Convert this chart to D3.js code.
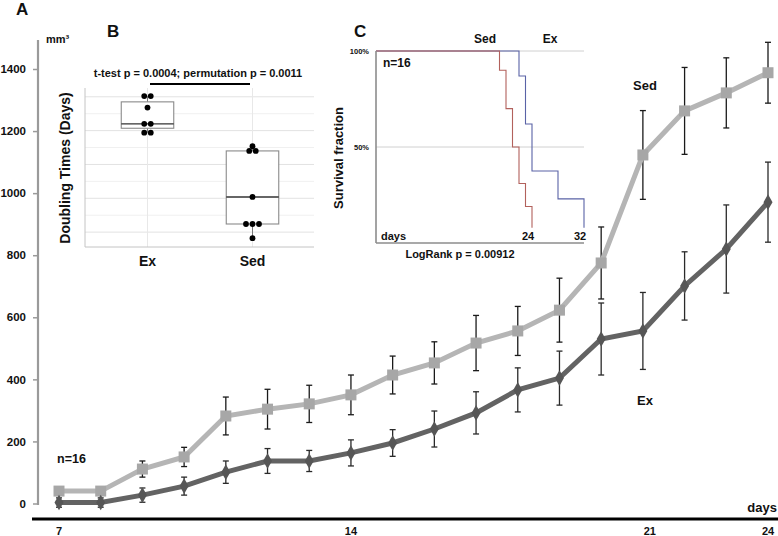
<!DOCTYPE html>
<html>
<head>
<meta charset="utf-8">
<script src="https://cdn.jsdelivr.net/npm/d3@7"></script>
<style>
  html, body { margin: 0; padding: 0; background: #fff; }
  svg { display: block; font-family: "Liberation Sans", Arial, Helvetica, sans-serif; }
  text { font-weight: bold; fill: #111; }
</style>
</head>
<body>
<svg id="chart" width="778" height="536"></svg>
<script>
// ---------------- DATA ----------------
// Panel A: tumour volume (mm3) by day
const days = [7, 8, 9, 10, 11, 12, 13, 14, 15, 16, 17, 18, 19, 20, 21, 22, 23, 24];
const sedMean = [40, 40, 111, 150, 282, 304, 321, 350, 414, 453, 517, 556, 623, 775, 1123, 1265, 1323, 1388];
const sedErr  = [5, 5, 26, 31, 61, 64, 60, 64, 61, 68, 89, 79, 103, 116, 143, 140, 113, 98];
const exMean  = [3, 3, 27, 56, 101, 137, 137, 163, 195, 240, 292, 366, 404, 530, 556, 701, 820, 971];
const exErr   = [15, 15, 23, 29, 36, 40, 34, 42, 43, 58, 68, 71, 87, 116, 124, 110, 142, 129];
const yTicks = [0, 200, 400, 600, 800, 1000, 1200, 1400];
const xTickLabels = [7, 14, 21, 24];

// Panel B: doubling times (box plot)
const groupsB = ["Ex", "Sed"];
const exDots  = [4.01, 4.01, 3.84, 3.60, 3.60, 3.47, 3.47];
const sedDots = [3.27, 3.20, 3.20, 2.52, 2.12, 2.12, 2.12, 1.91];
const exBox   = [3.47, 3.535, 3.60, 3.925, 4.01];   // min, q1, median, q3, max
const sedBox  = [1.91, 2.12, 2.52, 3.20, 3.27];
const gridMajorB = [2.0, 2.5, 3.0, 3.5, 4.0];
const gridMinorB = [2.25, 2.75, 3.25, 3.75];

// Panel C: survival (Kaplan-Meier)
const sedSurvDays = [0, 19, 20, 21, 22, 23, 24];
const sedSurv     = [100, 90, 70, 50, 31, 19, 8];
const exSurvDays  = [0, 22, 23, 24, 28, 32];
const exSurv      = [100, 87, 62, 37.5, 23, 8];
const survTicks = [100, 50];
const survDayLabels = [24, 32];

// ---------------- DRAW ----------------
const svg = d3.select("#chart");

// ===== Panel A =====
const x = d3.scaleLinear().domain([7, 24]).range([59, 768]);
const y = d3.scaleLinear().domain([0, 1400]).range([503.5, 69]);

// y axis (gray line + ticks)
svg.append("line").attr("x1", 38).attr("x2", 38).attr("y1", 40).attr("y2", 505)
  .attr("stroke", "#9a9a9a").attr("stroke-width", 2.2);
const yAxis = svg.append("g").attr("transform", "translate(38,0)")
  .call(d3.axisLeft(y).tickValues(yTicks).tickSize(5).tickPadding(7).tickFormat(d3.format("d")));
yAxis.select(".domain").remove();
yAxis.selectAll(".tick line").attr("stroke", "#9a9a9a").attr("stroke-width", 1.5);
yAxis.selectAll(".tick text").attr("font-size", 11.5).attr("font-weight", "bold")
  .attr("font-family", "Liberation Sans, Arial, sans-serif").attr("fill", "#111");

// x axis: thick black line and labels
svg.append("line").attr("x1", 32).attr("x2", 778).attr("y1", 519).attr("y2", 519)
  .attr("stroke", "#000").attr("stroke-width", 3);
svg.append("g").selectAll("text").data(xTickLabels).join("text")
  .attr("x", d => x(d) + (d === 21 ? 7 : 0)).attr("y", 535)
  .attr("text-anchor", "middle").attr("font-size", 11).text(d => d);

svg.append("text").attr("x", 777).attr("y", 512).attr("text-anchor", "end")
  .attr("font-size", 13).text("days");
svg.append("text").attr("x", 46).attr("y", 43).attr("font-size", 11).text("mm³");
svg.append("text").attr("x", 16).attr("y", 15).attr("font-size", 17).text("A");
svg.append("text").attr("x", 57).attr("y", 463).attr("font-size", 12.5).text("n=16");
svg.append("text").attr("x", 645).attr("y", 90).attr("text-anchor", "middle").attr("font-size", 13).text("Sed");
svg.append("text").attr("x", 645).attr("y", 405).attr("text-anchor", "middle").attr("font-size", 13).text("Ex");

const blur = svg.append("defs").append("filter").attr("id", "soft")
  .attr("x", "-20%").attr("y", "-20%").attr("width", "140%").attr("height", "140%");
blur.append("feGaussianBlur").attr("stdDeviation", 0.7);

function errorBars(mean, err, color) {
  const g = svg.append("g").attr("stroke", color).attr("stroke-width", 1.3).attr("fill", "none");
  days.forEach((d, i) => {
    const cx = x(d), top = y(mean[i] + err[i]), bot = y(mean[i] - err[i]);
    g.append("line").attr("x1", cx).attr("x2", cx).attr("y1", top).attr("y2", bot);
    g.append("line").attr("x1", cx - 3).attr("x2", cx + 3).attr("y1", top).attr("y2", top);
    g.append("line").attr("x1", cx - 3).attr("x2", cx + 3).attr("y1", bot).attr("y2", bot);
  });
}
errorBars(sedMean, sedErr, "#1a1a1a");
errorBars(exMean, exErr, "#2a2a2a");

const line = d3.line().x((d, i) => x(days[i])).y(d => y(d));
svg.append("path").datum(sedMean).attr("d", line).attr("fill", "none")
  .attr("stroke", "#b5b5b5").attr("stroke-width", 5).attr("filter", "url(#soft)");
svg.append("path").datum(exMean).attr("d", line).attr("fill", "none")
  .attr("stroke", "#636363").attr("stroke-width", 5).attr("filter", "url(#soft)");

svg.append("g").selectAll("rect").data(sedMean).join("rect")
  .attr("x", (d, i) => x(days[i]) - 5.5).attr("y", d => y(d) - 5.5)
  .attr("width", 11).attr("height", 11).attr("fill", "#a7a7a7").attr("filter", "url(#soft)");
svg.append("g").selectAll("path").data(exMean).join("path")
  .attr("d", d3.symbol().type(d3.symbolDiamond).size(70))
  .attr("transform", (d, i) => `translate(${x(days[i])},${y(d)})`)
  .attr("fill", "#565656").attr("filter", "url(#soft)");

// ===== Panel B =====
const xb = d3.scaleBand().domain(groupsB).range([95, 305]);
const yb = d3.scaleLinear().domain([1.78, 4.13]).range([247, 88]);
const bL = 85, bR = 314;

svg.append("g").selectAll("line").data(gridMinorB).join("line")
  .attr("x1", bL).attr("x2", bR).attr("y1", d => yb(d)).attr("y2", d => yb(d))
  .attr("stroke", "#f0f0f0").attr("stroke-width", 1);
svg.append("g").selectAll("line").data(gridMajorB).join("line")
  .attr("x1", bL).attr("x2", bR).attr("y1", d => yb(d)).attr("y2", d => yb(d))
  .attr("stroke", "#e2e2e2").attr("stroke-width", 1);
svg.append("g").selectAll("line").data(groupsB).join("line")
  .attr("x1", d => xb(d) + xb.bandwidth() / 2).attr("x2", d => xb(d) + xb.bandwidth() / 2)
  .attr("y1", 88).attr("y2", 247).attr("stroke", "#e8e8e8").attr("stroke-width", 1);
svg.append("line").attr("x1", bL).attr("x2", bL).attr("y1", 88).attr("y2", 247)
  .attr("stroke", "#c4c4c4").attr("stroke-width", 1);
svg.append("line").attr("x1", bL).attr("x2", bR).attr("y1", 247).attr("y2", 247)
  .attr("stroke", "#c4c4c4").attr("stroke-width", 1);

[[ "Ex", exBox, exDots ], [ "Sed", sedBox, sedDots ]].forEach(([g, bx, dots]) => {
  const cx = xb(g) + xb.bandwidth() / 2;
  const w = xb.bandwidth() * 0.5;
  const gg = svg.append("g");
  gg.append("line").attr("x1", cx).attr("x2", cx).attr("y1", yb(bx[0])).attr("y2", yb(bx[1]))
    .attr("stroke", "#777").attr("stroke-width", 1);
  gg.append("line").attr("x1", cx).attr("x2", cx).attr("y1", yb(bx[3])).attr("y2", yb(bx[4]))
    .attr("stroke", "#777").attr("stroke-width", 1);
  gg.append("rect").attr("x", cx - w / 2).attr("y", yb(bx[3])).attr("width", w)
    .attr("height", yb(bx[1]) - yb(bx[3])).attr("fill", "#fff")
    .attr("stroke", "#8a8a8a").attr("stroke-width", 1.1);
  gg.append("line").attr("x1", cx - w / 2).attr("x2", cx + w / 2)
    .attr("y1", yb(bx[2])).attr("y2", yb(bx[2])).attr("stroke", "#333").attr("stroke-width", 1.4);
  // dots: identical values spread side by side
  const groups = d3.group(dots, d => d);
  groups.forEach((vals, v) => {
    vals.forEach((_, k) => {
      gg.append("circle").attr("cx", cx + (k - (vals.length - 1) / 2) * 6.5).attr("cy", yb(v))
        .attr("r", 2.9).attr("fill", "#000");
    });
  });
  svg.append("text").attr("x", cx).attr("y", 266).attr("text-anchor", "middle")
    .attr("font-size", 14).text(g);
});

svg.append("text").attr("x", 198).attr("y", 77).attr("text-anchor", "middle")
  .attr("font-size", 11).text("t-test p = 0.0004; permutation p = 0.0011");
svg.append("line").attr("x1", 150).attr("x2", 250).attr("y1", 84).attr("y2", 84)
  .attr("stroke", "#000").attr("stroke-width", 2);
svg.append("text").attr("transform", "translate(70,168) rotate(-90)")
  .attr("text-anchor", "middle").attr("font-size", 14).text("Doubling Times (Days)");
svg.append("text").attr("x", 107).attr("y", 37).attr("font-size", 17).text("B");

// ===== Panel C =====
const xc = d3.scaleLinear().domain([0, 32]).range([376, 584]);
const yc = d3.scaleLinear().domain([0, 100]).range([243, 51]);

svg.append("g").selectAll("line").data(survTicks).join("line")
  .attr("x1", xc(0)).attr("x2", xc(32)).attr("y1", d => yc(d)).attr("y2", d => yc(d))
  .attr("stroke", "#d0d0d0").attr("stroke-width", 1);
svg.append("g").selectAll("text").data(survTicks).join("text")
  .attr("x", 369).attr("y", d => yc(d) + 2.5).attr("text-anchor", "end")
  .attr("font-size", 7.5).attr("font-weight", "normal").attr("fill", "#555")
  .text(d => d + "%");

const stepLine = (ds) => d3.line().curve(d3.curveStepAfter)
  .x((d, i) => xc(ds[i])).y(d => yc(d));
svg.append("path").datum(exSurv).attr("d", stepLine(exSurvDays)).attr("fill", "none")
  .attr("stroke", "#5a63a6").attr("stroke-width", 1.1);
svg.append("path").datum(sedSurv).attr("d", stepLine(sedSurvDays)).attr("fill", "none")
  .attr("stroke", "#b2615c").attr("stroke-width", 1.1);

svg.append("line").attr("x1", xc(0)).attr("x2", xc(0)).attr("y1", yc(100)).attr("y2", yc(0))
  .attr("stroke", "#8c8c8c").attr("stroke-width", 1.6);
svg.append("line").attr("x1", xc(0)).attr("x2", xc(32)).attr("y1", yc(0)).attr("y2", yc(0))
  .attr("stroke", "#8c8c8c").attr("stroke-width", 1.6);

svg.append("g").selectAll("text").data(survDayLabels).join("text")
  .attr("x", d => xc(d) - 4).attr("y", 240).attr("text-anchor", "middle")
  .attr("font-size", 11).text(d => d);
svg.append("text").attr("x", 381).attr("y", 240).attr("font-size", 11).text("days");
svg.append("text").attr("x", 460).attr("y", 258).attr("text-anchor", "middle")
  .attr("font-size", 11).text("LogRank p = 0.00912");
svg.append("text").attr("x", 383).attr("y", 67).attr("font-size", 12).text("n=16");
svg.append("text").attr("x", 485).attr("y", 43).attr("text-anchor", "middle").attr("font-size", 12).text("Sed");
svg.append("text").attr("x", 550).attr("y", 43).attr("text-anchor", "middle").attr("font-size", 12).text("Ex");
svg.append("text").attr("transform", "translate(343,158) rotate(-90)")
  .attr("text-anchor", "middle").attr("font-size", 13).text("Survival fraction");
svg.append("text").attr("x", 354).attr("y", 37).attr("font-size", 17).text("C");
</script>
</body>
</html>
